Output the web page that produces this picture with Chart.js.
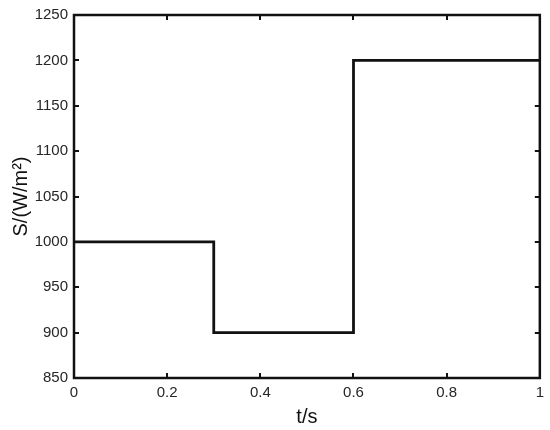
<!DOCTYPE html>
<html><head><meta charset="utf-8">
<script src="https://cdn.jsdelivr.net/npm/chart.js@4/dist/chart.umd.min.js"></script>
<style>html,body{margin:0;padding:0;background:#fff}#c{display:block}</style>
</head><body>
<canvas id="c" width="550" height="430"></canvas>
<script>
const timeValues = [0, 0.3, 0.3, 0.6, 0.6, 1];
const irradiance = [1000, 1000, 900, 900, 1200, 1200];
const xTicks = [0, 0.2, 0.4, 0.6, 0.8, 1];
const yTicks = [850, 900, 950, 1000, 1050, 1100, 1150, 1200, 1250];
const xLabel = 't/s';
const yLabel = 'S/(W/m²)';

const points = timeValues.map((t, i) => ({x: t, y: irradiance[i]}));
const FONT = "'Liberation Sans', Arial, sans-serif";

const frame = {
  id: 'frame',
  afterDraw(chart) {
    const {ctx, chartArea: a, scales: {x, y}} = chart;
    ctx.save();
    ctx.strokeStyle = '#111';
    ctx.lineWidth = 2;
    const L = 5;
    ctx.beginPath();
    xTicks.forEach(v => {
      const px = Math.round(x.getPixelForValue(v));
      ctx.moveTo(px, a.bottom); ctx.lineTo(px, a.bottom - L);
      ctx.moveTo(px, a.top); ctx.lineTo(px, a.top + L);
    });
    yTicks.forEach(v => {
      const py = Math.round(y.getPixelForValue(v));
      ctx.moveTo(a.left, py); ctx.lineTo(a.left + L, py);
      ctx.moveTo(a.right, py); ctx.lineTo(a.right - L, py);
    });
    ctx.stroke();
    ctx.lineWidth = 2.5;
    ctx.strokeRect(a.left, a.top, a.right - a.left, a.bottom - a.top);
    ctx.restore();
  }
};

new Chart(document.getElementById('c'), {
  type: 'scatter',
  data: {
    datasets: [{
      data: points,
      showLine: true,
      borderColor: '#111',
      borderWidth: 2.8,
      pointRadius: 0,
      fill: false,
      tension: 0
    }]
  },
  options: {
    responsive: false,
    animation: false,
    layout: {padding: {top: 10, right: 9, left: 0, bottom: 0}},
    plugins: {legend: {display: false}, tooltip: {enabled: false}},
    scales: {
      x: {
        type: 'linear', min: 0, max: 1,
        afterFit(s) { s.height = 52; },
        afterBuildTicks(s) { s.ticks = xTicks.map(v => ({value: v})); },
        grid: {display: false, drawTicks: false},
        border: {display: false},
        ticks: {color: '#262626', font: {family: FONT, size: 15}, padding: 6,
                maxRotation: 0, callback: v => String(v)},
        title: {display: true, text: xLabel, color: '#111',
                font: {family: FONT, size: 20}, padding: {top: 0, bottom: 1}}
      },
      y: {
        type: 'linear', min: 850, max: 1250,
        afterFit(s) { s.width = 74; },
        afterBuildTicks(s) { s.ticks = yTicks.map(v => ({value: v})); },
        grid: {display: false, drawTicks: false},
        border: {display: false},
        ticks: {color: '#262626', font: {family: FONT, size: 15}, padding: 6,
                callback: v => String(v)},
        title: {display: true, text: yLabel, color: '#111',
                font: {family: FONT, size: 20}, padding: {top: 9, bottom: 0}}
      }
    }
  },
  plugins: [frame]
});
</script>
</body></html>
